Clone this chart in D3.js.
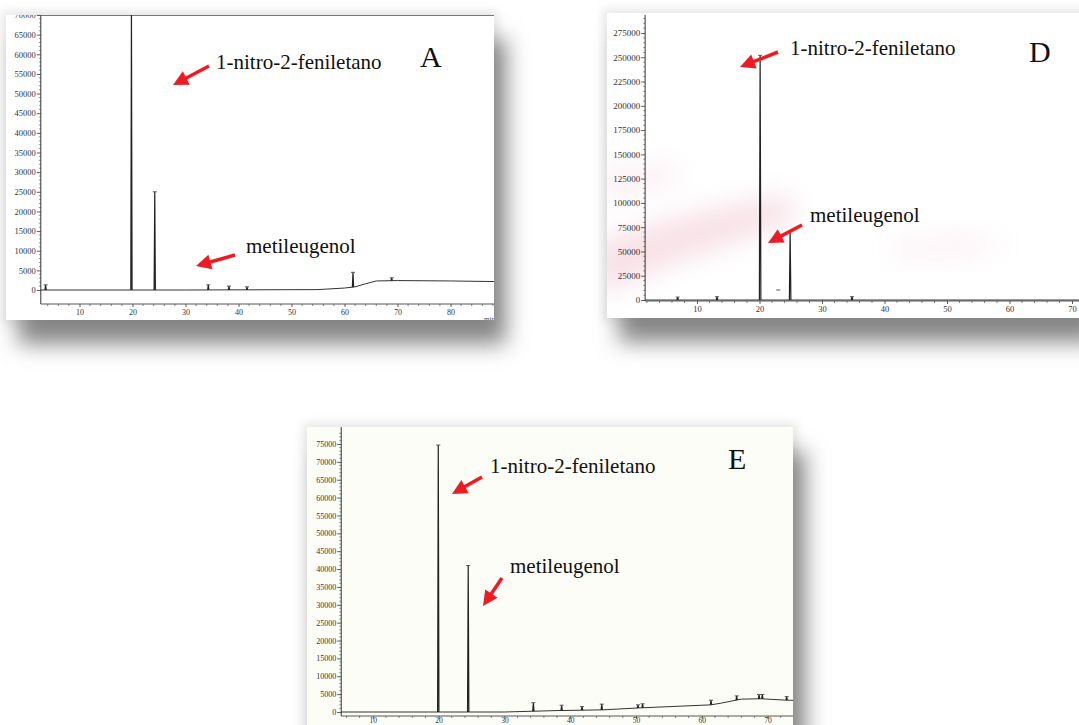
<!DOCTYPE html>
<html>
<head>
<meta charset="utf-8">
<script src="https://cdn.jsdelivr.net/npm/d3@7"></script>
<style>
    html, body { margin: 0; padding: 0; background: #fff; }
    svg { display: block; }
    text { -webkit-font-smoothing: antialiased; }
</style>
</head>
<body>
<div id="chart"></div>
<script>
// values (retention time in min, abundance)
const panelNames = ["A", "D", "E"];
const compoundNames = ["1-nitro-2-feniletano", "metileugenol"];

const aYTicks = [0, 5000, 10000, 15000, 20000, 25000, 30000, 35000, 40000, 45000, 50000, 55000, 60000, 65000, 70000];
const aXTicks = [10, 20, 30, 40, 50, 60, 70, 80];
const aBaseline = [[2.7, 0], [30, 0], [55, 100], [60, 500], [62, 800], [64, 1600], [66, 2300], [70, 2400], [80, 2300], [91, 2100]];
const aPeaks = [[3.6, 1300], [19.8, 72000], [24.2, 25000], [34.3, 1300], [38.2, 1000], [41.6, 800], [61.6, 4500], [68.9, 3100]];
const aMarks = [];

const dYTicks = [0, 25000, 50000, 75000, 100000, 125000, 150000, 175000, 200000, 225000, 250000, 275000];
const dXTicks = [10, 20, 30, 40, 50, 60, 70];
const dBaseline = [[1.7, 0], [72, 0]];
const dPeaks = [[6.9, 3000], [13.2, 3400], [20.1, 252000], [24.9, 71000], [34.8, 3400]];
const dMarks = [[23, 10300]];

const eYTicks = [0, 5000, 10000, 15000, 20000, 25000, 30000, 35000, 40000, 45000, 50000, 55000, 60000, 65000, 70000, 75000];
const eXTicks = [10, 20, 30, 40, 50, 60, 70];
const eBaseline = [[5.2, 0], [30, 0], [38, 400], [45, 600], [50, 1100], [61.4, 2000], [63, 2500], [66, 3600], [69, 3700], [73, 3300], [75, 3200]];
const ePeaks = [[19.95, 74700], [24.5, 41000], [34.4, 2600], [38.7, 1900], [41.8, 1500], [44.8, 2200], [50.3, 2000], [51, 2300], [61.4, 3300], [65.3, 4500], [68.7, 4900], [69.2, 4900], [72.9, 4300]];
const eMarks = [];

const RED = "#ed1c24";

class ChromatogramPanel {
    constructor(_config, _data) {
        this.config = _config;
        this.data = _data;
        this.initVis();
    }

    initVis() {
        let vis = this;
        const c = vis.config;
        const b = c.box;

        vis.svg = c.svg;
        vis.id = "panel-" + vis.data.name;

        // shadow + soft halo behind the scanned panel
        vis.svg.append("rect")
            .attr("x", b.x - 4).attr("y", b.y - 4)
            .attr("width", b.w + 8).attr("height", b.h + 8)
            .attr("fill", "#d8d8d8")
            .attr("opacity", 0.6)
            .attr("filter", "url(#halo)");
        vis.svg.append("rect")
            .attr("x", b.x + 12).attr("y", b.y + 24)
            .attr("width", b.w).attr("height", b.h)
            .attr("fill", "#858585")
            .attr("filter", "url(#shadow)");

        vis.svg.append("clipPath").attr("id", vis.id + "-clip")
            .append("rect")
            .attr("x", b.x).attr("y", b.y)
            .attr("width", b.w).attr("height", b.h);

        vis.g = vis.svg.append("g").attr("clip-path", `url(#${vis.id}-clip)`);
        vis.g.append("rect")
            .attr("x", b.x).attr("y", b.y)
            .attr("width", b.w).attr("height", b.h)
            .attr("fill", c.paper);

        if (c.stain) {
            c.stain.forEach((s) => {
                vis.g.append("path")
                    .attr("d", d3.line()(s.points))
                    .attr("fill", "#eab0c0")
                    .attr("opacity", s.opacity)
                    .attr("filter", "url(#stain)");
            });
        }

        vis.xScale = d3.scaleLinear().domain(c.xDomain).range(c.xRange);
        vis.yScale = d3.scaleLinear().domain(c.yDomain).range(c.yRange);
        vis.baseScale = d3.scaleLinear()
            .domain(vis.data.baseline.map((d) => d[0]))
            .range(vis.data.baseline.map((d) => d[1]));

        vis.renderAxes();
        vis.renderVis();
        vis.renderLabels();
    }

    renderAxes() {
        let vis = this;
        const c = vis.config;
        const xAxisY = c.xAxisY;
        const yAxisX = vis.xScale(c.yAxisT);
        const minTicksX = d3.range(0, c.xDomain[1] + 0.1, 2);
        const step = vis.data.yTicks[1] - vis.data.yTicks[0];
        const minTicksY = d3.range(0, c.yAxisMax, step / 5);

        // y axis
        const yAxis = d3.axisLeft(vis.yScale)
            .tickValues(vis.data.yTicks)
            .tickSize(4)
            .tickPadding(1)
            .tickFormat(d3.format("d"));
        const gy = vis.g.append("g")
            .attr("transform", `translate(${yAxisX},0)`)
            .call(yAxis);
        gy.select(".domain").remove();
        gy.selectAll("line").attr("stroke", "#333").attr("stroke-width", 0.8);
        gy.selectAll("text")
            .attr("font-family", "Liberation Serif")
            .attr("font-size", c.tickFont)
            .attr("fill", "#333");
        vis.g.append("g").selectAll("line")
            .data(minTicksY.filter((v) => !vis.data.yTicks.includes(v)))
            .join("line")
            .attr("x1", yAxisX - 2).attr("x2", yAxisX)
            .attr("y1", (d) => vis.yScale(d)).attr("y2", (d) => vis.yScale(d))
            .attr("stroke", "#555").attr("stroke-width", 0.6);
        vis.g.append("line")
            .attr("x1", yAxisX).attr("x2", yAxisX)
            .attr("y1", c.yAxisTopY).attr("y2", xAxisY)
            .attr("stroke", "#333").attr("stroke-width", 1);

        // x axis
        const xAxis = d3.axisBottom(vis.xScale)
            .tickValues(vis.data.xTicks)
            .tickSize(3)
            .tickPadding(c.xTickPad);
        const gx = vis.g.append("g")
            .attr("transform", `translate(0,${xAxisY})`)
            .call(xAxis);
        gx.select(".domain").remove();
        gx.selectAll("line").attr("stroke", "#333").attr("stroke-width", 0.8);
        gx.selectAll("text")
            .attr("font-family", "Liberation Serif")
            .attr("font-size", c.tickFont - 0.5)
            .attr("fill", "#333");
        vis.g.append("g").selectAll("line")
            .data(minTicksX.filter((t) => t > c.yAxisT && !vis.data.xTicks.includes(t)))
            .join("line")
            .attr("x1", (d) => vis.xScale(d)).attr("x2", (d) => vis.xScale(d))
            .attr("y1", xAxisY).attr("y2", xAxisY + 2)
            .attr("stroke", "#555").attr("stroke-width", 0.7);
        vis.g.append("line")
            .attr("x1", yAxisX).attr("x2", c.box.x + c.box.w)
            .attr("y1", xAxisY).attr("y2", xAxisY)
            .attr("stroke", "#444").attr("stroke-width", 0.9);

        if (c.minLabel) {
            vis.g.append("text")
                .attr("x", c.minLabel.x).attr("y", c.minLabel.y)
                .attr("font-family", "Liberation Serif")
                .attr("font-size", 7)
                .attr("fill", "#444")
                .text("min");
        }
        if (c.topLine) {
            vis.g.append("line")
                .attr("x1", yAxisX).attr("x2", c.box.x + c.box.w)
                .attr("y1", c.box.y + 0.5).attr("y2", c.box.y + 0.5)
                .attr("stroke", "#777").attr("stroke-width", 1);
        }
    }

    renderVis() {
        let vis = this;
        const c = vis.config;
        const t0 = c.yAxisT;

        // baseline trace
        const basePts = vis.data.baseline.filter((d) => d[0] >= t0);
        const line = d3.line()
            .x((d) => vis.xScale(d[0]))
            .y((d) => vis.yScale(d[1]));
        vis.g.append("path")
            .attr("d", line(basePts))
            .attr("fill", "none")
            .attr("stroke", "#333")
            .attr("stroke-width", 1);

        // peaks as narrow spikes on the baseline
        const w = c.peakWidth;
        vis.g.selectAll(".peak")
            .data(vis.data.peaks)
            .join("path")
            .attr("class", "peak")
            .attr("d", (d) => line([[d[0] - w, vis.baseScale(d[0] - w)], [d[0], d[1]], [d[0] + w, vis.baseScale(d[0] + w)]]))
            .attr("fill", "none")
            .attr("stroke", "#222")
            .attr("stroke-width", 1.2);

        // integration marks at peak tops
        vis.g.selectAll(".cap")
            .data(vis.data.peaks.concat(vis.data.marks))
            .join("line")
            .attr("class", "cap")
            .attr("x1", (d) => vis.xScale(d[0]) - 2)
            .attr("x2", (d) => vis.xScale(d[0]) + 2)
            .attr("y1", (d) => vis.yScale(d[1]))
            .attr("y2", (d) => vis.yScale(d[1]))
            .attr("stroke", "#555")
            .attr("stroke-width", 1);
    }

    renderLabels() {
        let vis = this;
        const a = vis.config.annot;

        vis.g.append("text")
            .attr("x", a.letter[0]).attr("y", a.letter[1])
            .attr("font-family", "Liberation Serif")
            .attr("font-size", 30)
            .attr("fill", "#111")
            .text(vis.data.name);

        [0, 1].forEach((i) => {
            vis.g.append("text")
                .attr("x", a.labels[i][0]).attr("y", a.labels[i][1])
                .attr("font-family", "Liberation Serif")
                .attr("font-size", 21)
                .attr("fill", "#111")
                .text(compoundNames[i]);
            drawArrow(vis.g, a.arrows[i][0], a.arrows[i][1]);
        });
    }
}

function drawArrow(g, tail, tip) {
    const dx = tip[0] - tail[0];
    const dy = tip[1] - tail[1];
    const len = Math.hypot(dx, dy);
    const ux = dx / len, uy = dy / len;
    const px = -uy, py = ux;
    const L = 15, W = 7.5;
    g.append("line")
        .attr("x1", tail[0]).attr("y1", tail[1])
        .attr("x2", tip[0] - ux * (L - 2)).attr("y2", tip[1] - uy * (L - 2))
        .attr("stroke", RED)
        .attr("stroke-width", 3.5);
    g.append("polygon")
        .attr("points", [
            tip,
            [tip[0] - ux * L + px * W, tip[1] - uy * L + py * W],
            [tip[0] - ux * L - px * W, tip[1] - uy * L - py * W]
        ].map((p) => p.join(",")).join(" "))
        .attr("fill", RED);
}

const svg = d3.select("#chart")
    .append("svg")
    .attr("width", 1079)
    .attr("height", 725);
svg.append("rect").attr("width", 1079).attr("height", 725).attr("fill", "#fff");

const defs = svg.append("defs");
defs.append("filter").attr("id", "shadow")
    .attr("x", "-20%").attr("y", "-20%").attr("width", "140%").attr("height", "140%")
    .append("feGaussianBlur").attr("stdDeviation", 11);
defs.append("filter").attr("id", "halo")
    .attr("x", "-20%").attr("y", "-20%").attr("width", "140%").attr("height", "140%")
    .append("feGaussianBlur").attr("stdDeviation", 5);
defs.append("filter").attr("id", "stain")
    .attr("x", "-40%").attr("y", "-40%").attr("width", "180%").attr("height", "180%")
    .append("feGaussianBlur").attr("stdDeviation", 13);

const panelData = {
    A: { name: panelNames[0], yTicks: aYTicks, xTicks: aXTicks, baseline: aBaseline, peaks: aPeaks, marks: aMarks },
    D: { name: panelNames[1], yTicks: dYTicks, xTicks: dXTicks, baseline: dBaseline, peaks: dPeaks, marks: dMarks },
    E: { name: panelNames[2], yTicks: eYTicks, xTicks: eXTicks, baseline: eBaseline, peaks: ePeaks, marks: eMarks }
};

new ChromatogramPanel({
    svg: svg,
    box: { x: 6, y: 15, w: 488, h: 305 },
    paper: "#ffffff",
    xDomain: [0, 90], xRange: [26.5, 503.5],
    yDomain: [0, 70000], yRange: [290, 15],
    xAxisY: 304, yAxisT: 2.7, yAxisTopY: 15, yAxisMax: 70001,
    tickFont: 8.5, peakWidth: 0.12, xTickPad: 2,
    topLine: true,
    minLabel: { x: 484, y: 321 },
    annot: {
        letter: [420, 67],
        labels: [[216, 69], [246, 253]],
        arrows: [[[209, 66], [173, 85]], [[235, 255], [196, 266]]]
    }
}, panelData.A);

new ChromatogramPanel({
    svg: svg,
    box: { x: 607, y: 13, w: 480, h: 305 },
    paper: "#ffffff",
    xDomain: [0, 72], xRange: [634.5, 634.5 + 72 * 6.25],
    yDomain: [0, 275000], yRange: [300, 33],
    xAxisY: 301, yAxisT: 1.7, yAxisTopY: 15, yAxisMax: 290001,
    tickFont: 9, peakWidth: 0.12, xTickPad: 2,
    stain: [
        { points: [[590, 245], [660, 222], [730, 205], [790, 195], [795, 220], [740, 240], [670, 265], [600, 295]], opacity: 0.38 },
        { points: [[600, 170], [660, 162], [690, 175], [640, 195], [600, 200]], opacity: 0.18 },
        { points: [[890, 242], [960, 232], [1010, 242], [960, 260], [895, 260]], opacity: 0.15 }
    ],
    annot: {
        letter: [1029, 62],
        labels: [[790, 55], [810, 222]],
        arrows: [[[778, 52], [740, 67]], [[802, 225], [768, 243]]]
    }
}, panelData.D);

new ChromatogramPanel({
    svg: svg,
    box: { x: 307, y: 427, w: 486, h: 310 },
    paper: "#fdfdf7",
    xDomain: [0, 75], xRange: [307, 307 + 75 * 6.58],
    yDomain: [0, 75000], yRange: [712, 444],
    xAxisY: 716, yAxisT: 5.2, yAxisTopY: 427, yAxisMax: 78001,
    tickFont: 8, peakWidth: 0.1, xTickPad: -1,
    annot: {
        letter: [728, 469],
        labels: [[490, 473], [510, 573]],
        arrows: [[[482, 477], [452, 494]], [[502, 578], [483, 606]]]
    }
}, panelData.E);
</script>
</body>
</html>
